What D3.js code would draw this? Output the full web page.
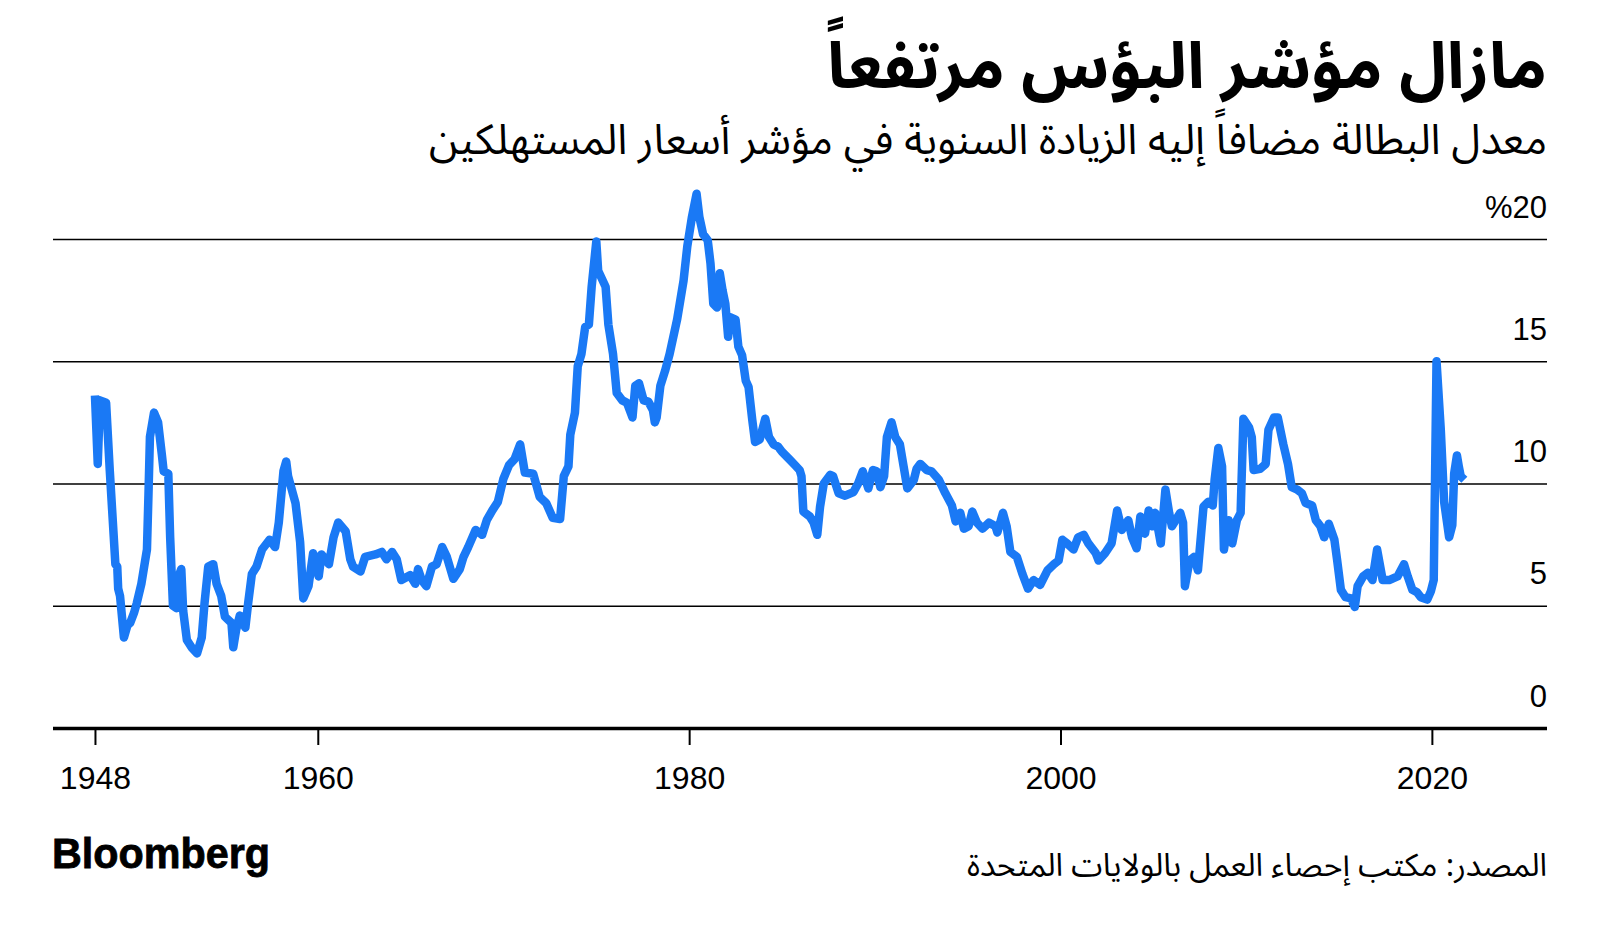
<!DOCTYPE html>
<html>
<head>
<meta charset="utf-8">
<script src="https://cdn.jsdelivr.net/npm/d3@7"></script>
<style>
  html, body { margin: 0; padding: 0; background: #fff; }
  svg { display: block; }
</style>
</head>
<body>
<svg id="chart" width="1600" height="935"></svg>
<script>
// ---- data (decimal year, misery index %) ----
const years = [
  1948.00,1948.15,1948.27,1948.60,1948.80,1949.10,1949.20,1949.25,1949.35,1949.56,1949.75,1949.90,1950.10,1950.25,1950.50,1950.80,1950.88,1950.96,
  1951.18,1951.40,1951.60,1951.70,1951.95,1952.05,1952.20,1952.40,1952.50,1952.65,1952.75,1952.95,1953.20,1953.50,1953.75,1953.90,
  1954.10,1954.37,1954.55,1954.80,1955.00,1955.35,1955.45,1955.60,1955.80,1956.10,1956.25,1956.45,1956.70,1957.00,1957.40,1957.70,1957.90,
  1958.15,1958.30,1958.40,1958.80,1959.05,1959.22,1959.50,1959.75,1960.05,1960.20,1960.60,1960.85,1961.10,1961.50,1961.75,1961.90,
  1962.30,1962.55,1963.10,1963.45,1963.70,1964.00,1964.25,1964.50,1964.97,1965.25,1965.40,1965.60,1965.85,1966.15,1966.40,1966.70,1966.95,
  1967.30,1967.65,1967.85,1968.10,1968.50,1968.85,1969.10,1969.40,1969.70,1970.00,1970.30,1970.60,1970.90,1971.15,1971.60,1971.95,
  1972.30,1972.65,1973.05,1973.25,1973.50,1973.60,1973.85,1974.00,1974.20,1974.40,1974.60,1974.75,1975.00,1975.10,1975.50,1975.65,1975.90,
  1976.10,1976.40,1976.65,1976.95,1977.10,1977.30,1977.55,1977.80,1978.05,1978.15,1978.25,1978.45,1978.70,1978.95,1979.35,1979.70,1979.90,
  1980.15,1980.40,1980.55,1980.75,1981.00,1981.15,1981.30,1981.50,1981.65,1981.80,1981.95,1982.10,1982.20,1982.50,1982.65,1982.85,
  1983.05,1983.20,1983.40,1983.55,1983.80,1984.10,1984.30,1984.55,1984.80,1985.00,1985.45,1985.70,1985.95,1986.05,1986.15,1986.50,1986.70,1986.90,
  1987.05,1987.25,1987.60,1987.75,1988.05,1988.40,1988.85,1989.10,1989.35,1989.65,1989.90,1990.10,1990.30,1990.50,1990.65,1990.90,
  1991.10,1991.35,1991.55,1991.75,1992.10,1992.25,1992.45,1992.80,1993.05,1993.45,1993.80,1994.15,1994.35,1994.60,1994.80,
  1995.05,1995.25,1995.50,1995.80,1996.15,1996.50,1996.60,1996.90,1997.10,1997.30,1997.65,1997.95,1998.25,1998.55,1998.90,
  1999.30,1999.65,1999.90,2000.10,2000.35,2000.70,2000.95,2001.25,2001.50,2001.90,2002.05,2002.40,2002.75,2003.05,2003.30,2003.65,2003.85,
  2004.10,2004.30,2004.55,2004.75,2004.95,2005.10,2005.40,2005.65,2005.85,2006.00,2006.45,2006.60,2006.70,2006.95,2007.20,2007.40,2007.70,2007.95,
  2008.20,2008.30,2008.50,2008.70,2008.80,2009.05,2009.25,2009.50,2009.70,2009.85,2010.15,2010.30,2010.40,2010.75,2011.05,2011.20,2011.50,2011.70,
  2012.00,2012.25,2012.45,2012.75,2013.00,2013.20,2013.55,2013.75,2014.00,2014.20,2014.45,2014.75,2014.90,2015.10,2015.35,2015.65,2015.85,
  2016.00,2016.30,2016.55,2016.80,2017.05,2017.35,2017.70,2018.15,2018.50,2018.70,2018.95,2019.20,2019.40,2019.75,2019.95,2020.10,
  2020.25,2020.48,2020.66,2020.93,2021.10,2021.20,2021.35,2021.45,2021.55,2021.75
];
const misery = [
  13.6,10.8,13.4,13.3,10.5,6.7,6.6,5.7,5.4,3.7,4.2,4.3,4.7,5.1,5.9,7.3,9.5,11.9,
  12.9,12.5,11.2,10.5,10.4,7.8,5.0,4.9,6.2,6.5,4.8,3.6,3.3,3.05,3.7,5.1,
  6.6,6.7,5.9,5.4,4.55,4.3,3.3,4.0,4.6,4.1,5.1,6.3,6.6,7.3,7.7,7.4,8.4,
  10.5,10.9,10.3,9.2,7.6,5.3,5.8,7.15,6.2,7.1,6.7,7.8,8.4,8.05,6.9,6.6,
  6.4,7.0,7.1,7.2,6.9,7.2,6.9,6.05,6.25,5.9,6.5,6.05,5.8,6.6,6.7,7.4,7.0,
  6.1,6.5,7.0,7.4,8.1,7.9,8.5,8.9,9.25,10.2,10.75,11.0,11.6,10.45,10.4,9.45,
  9.2,8.6,8.55,10.3,10.7,12.0,12.9,14.8,15.3,16.4,16.5,18.05,19.9,18.7,18.05,16.5,15.3,
  13.7,13.4,13.3,12.7,14.0,14.1,13.4,13.35,13.0,12.5,12.7,14.0,14.6,15.3,16.7,18.3,19.7,
  20.9,21.85,20.9,20.2,19.95,19.0,17.35,17.2,18.6,17.9,17.35,16.0,16.8,16.7,15.6,15.25,
  14.2,13.95,12.6,11.7,11.8,12.65,11.9,11.6,11.5,11.3,10.95,10.75,10.55,10.3,8.85,8.65,8.4,7.9,
  9.05,10.0,10.35,10.3,9.6,9.5,9.65,10.0,10.5,9.8,10.55,10.5,9.85,10.3,11.9,12.5,
  11.9,11.6,10.7,9.8,10.15,10.6,10.8,10.55,10.5,10.15,9.6,9.1,8.45,8.8,8.15,
  8.25,8.85,8.4,8.15,8.4,8.25,8.0,8.8,8.25,7.2,7.0,6.3,5.7,6.05,5.85,
  6.45,6.7,6.85,7.7,7.55,7.3,7.8,7.9,7.55,7.15,6.85,7.15,7.55,8.9,8.1,8.5,7.8,
  7.35,8.65,7.95,8.9,8.25,8.8,7.55,9.75,8.8,8.25,8.8,8.4,5.8,6.85,7.0,6.45,9.05,9.25,
  9.1,10.15,11.45,10.7,7.3,8.5,7.55,8.5,8.8,12.65,12.3,11.9,10.55,10.6,10.8,12.2,12.7,12.7,
  11.6,10.8,9.85,9.75,9.6,9.2,9.1,8.5,8.25,7.8,8.35,7.7,6.85,5.65,5.35,5.3,4.95,
  5.8,6.2,6.35,6.05,7.3,6.05,6.05,6.2,6.7,6.2,5.65,5.55,5.35,5.25,5.6,6.05,
  15.0,12.2,9.25,7.8,8.3,10.4,11.15,10.7,10.3,10.15
];
const yTicks = [0, 5, 10, 15, 20];
const xTicks = [1948, 1960, 1980, 2000, 2020];

const titleText = "مازال مؤشر البؤس مرتفعاً";
const subtitleText = "معدل البطالة مضافاً إليه الزيادة السنوية في مؤشر أسعار المستهلكين";
const sourceText = "المصدر: مكتب إحصاء العمل بالولايات المتحدة";
const brandText = "Bloomberg";

// ---- layout ----
const left = 53, right = 1547;
const svg = d3.select("#chart");
const arabicFont = "'Noto Sans Arabic', 'Noto Kufi Arabic', 'DejaVu Sans', sans-serif";
const numFont = "'Liberation Sans', Arial, Helvetica, sans-serif";

const x = d3.scaleLinear().domain([1945.74, 2026.2]).range([left, right]);
const y = d3.scaleLinear().domain([0, 20]).range([728, 239]);

function fitText(sel, targetWidth) {
  const node = sel.node();
  const fs = parseFloat(sel.attr("font-size"));
  const w = node.getComputedTextLength();
  if (w > 0) sel.attr("font-size", fs * targetWidth / w);
}

// Title
const title = svg.append("text")
  .attr("x", right).attr("y", 88)
  .attr("text-anchor", "end")
  .attr("font-family", arabicFont)
  .attr("font-weight", "bold")
  .attr("font-size", 60)
  .attr("fill", "#000")
  .text(titleText);
fitText(title, 720);

const subtitle = svg.append("text")
  .attr("x", right).attr("y", 154)
  .attr("text-anchor", "end")
  .attr("font-family", arabicFont)
  .attr("font-size", 36)
  .attr("fill", "#000")
  .text(subtitleText);
fitText(subtitle, 1118);

// Y axis: gridlines + labels
const yAxis = svg.append("g")
  .attr("transform", `translate(${right},0)`)
  .call(d3.axisLeft(y).tickValues(yTicks).tickSize(right - left)
    .tickFormat(d => d === 20 ? "%20" : String(d)));
yAxis.select(".domain").remove();
yAxis.selectAll(".tick line")
  .attr("stroke", "#000")
  .attr("stroke-width", d => d === 0 ? 3.5 : 1.6);
yAxis.selectAll(".tick text")
  .attr("x", 0).attr("y", -22).attr("dy", 0)
  .attr("text-anchor", "end")
  .attr("direction", "ltr")
  .attr("font-family", numFont)
  .attr("font-size", 31)
  .attr("fill", "#000");

// X axis ticks + labels
const xAxis = svg.append("g")
  .attr("transform", `translate(0,${y(0)})`)
  .call(d3.axisBottom(x).tickValues(xTicks).tickSize(17).tickFormat(d3.format("d")));
xAxis.select(".domain").remove();
xAxis.selectAll(".tick line").attr("stroke", "#000").attr("stroke-width", 2);
xAxis.selectAll(".tick text")
  .attr("y", 61).attr("dy", 0)
  .attr("font-family", numFont)
  .attr("font-size", 32)
  .attr("fill", "#000");

// Line
const pts = years.map((yr, i) => [yr, misery[i]]);
svg.append("path")
  .datum(pts)
  .attr("fill", "none")
  .attr("stroke", "#1a79f5")
  .attr("stroke-width", 8.5)
  .attr("stroke-linejoin", "round")
  .attr("stroke-linecap", "butt")
  .attr("d", d3.line().x(d => x(d[0])).y(d => y(d[1])));

// Footer
const brand = svg.append("text")
  .attr("x", 52).attr("y", 868)
  .attr("font-family", numFont)
  .attr("font-weight", "bold")
  .attr("font-size", 42)
  .attr("stroke", "#000")
  .attr("stroke-width", 0.8)
  .attr("fill", "#000")
  .text(brandText);
brand.attr("textLength", 218).attr("lengthAdjust", "spacingAndGlyphs");

const source = svg.append("text")
  .attr("x", right).attr("y", 876)
  .attr("text-anchor", "end")
  .attr("font-family", arabicFont)
  .attr("font-size", 28)
  .attr("fill", "#000")
  .text(sourceText);
fitText(source, 580);
</script>
</body>
</html>
